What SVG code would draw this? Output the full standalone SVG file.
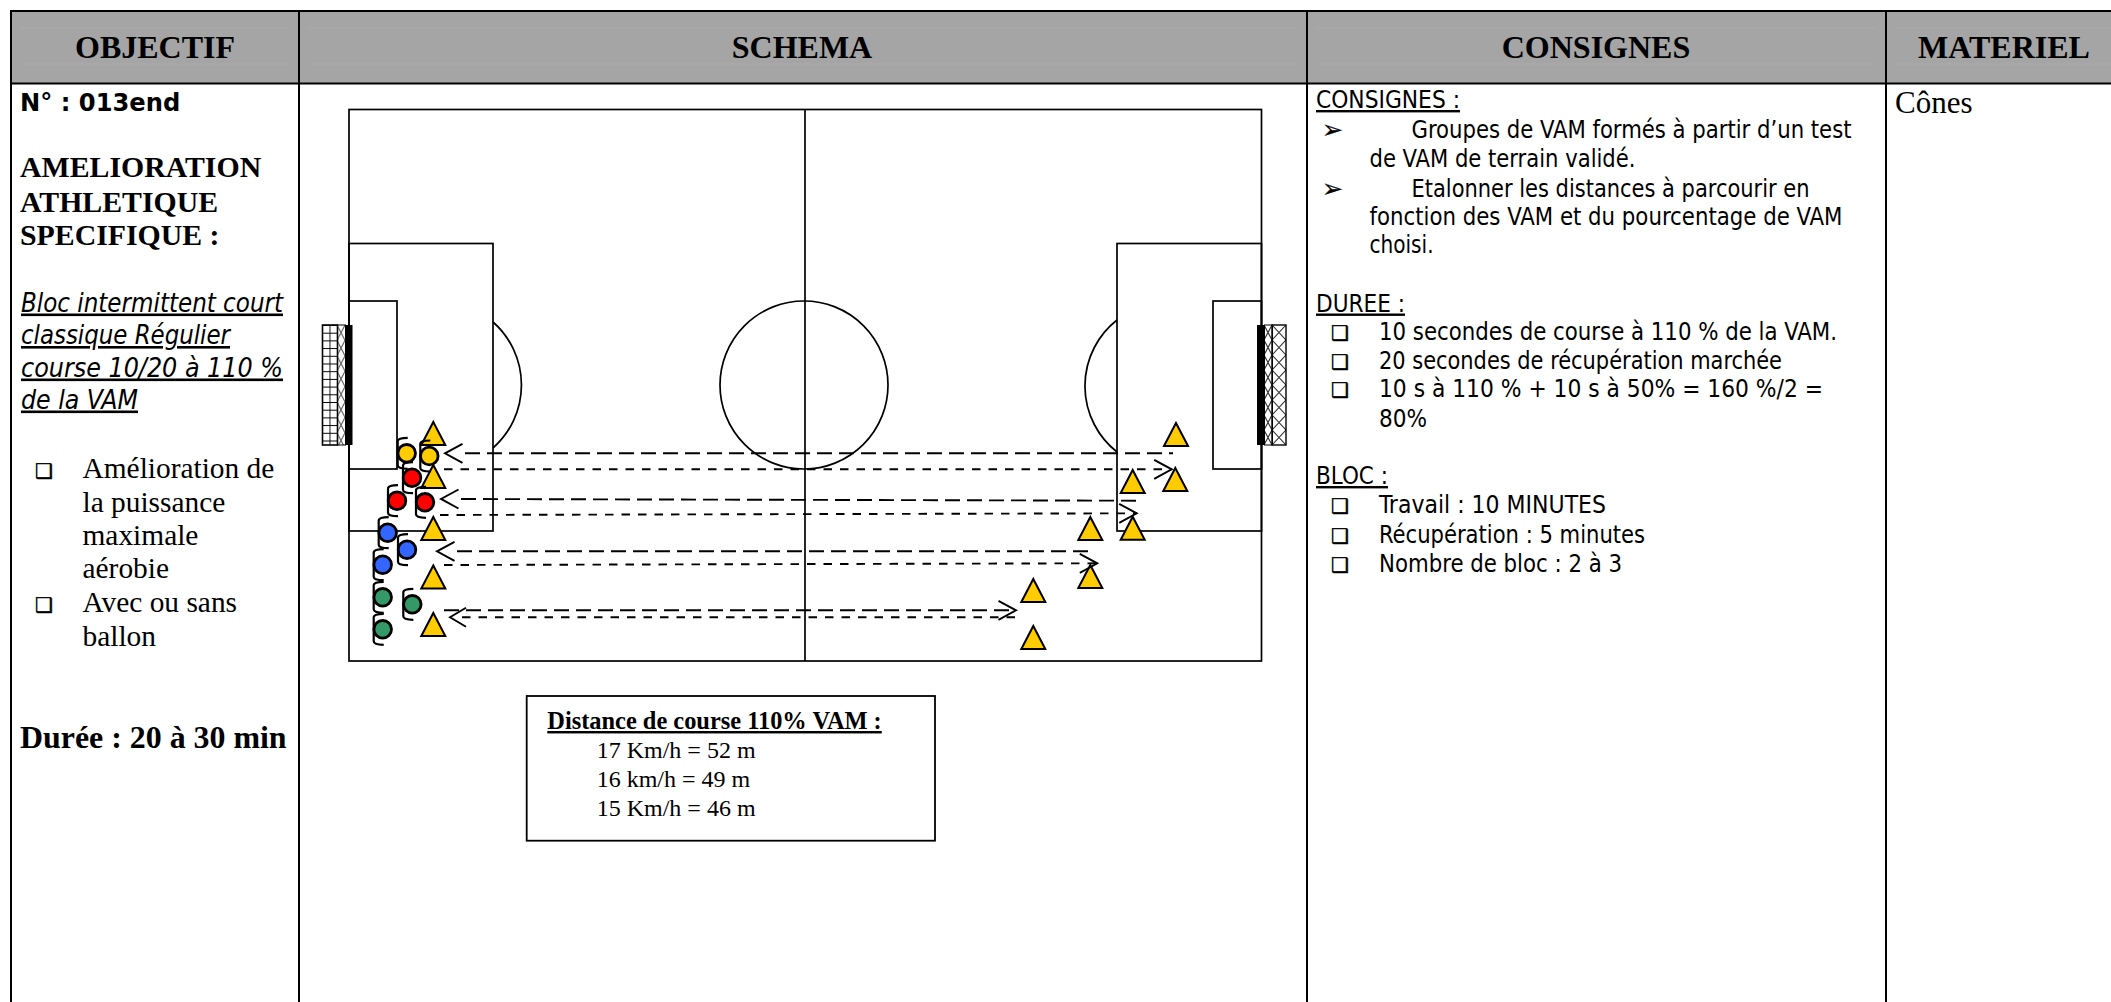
<svg xmlns="http://www.w3.org/2000/svg" width="2111" height="1002" viewBox="0 0 2111 1002">
<style>
text{fill:#000;white-space:pre}
.h{font:bold 32px "Liberation Serif",serif;text-anchor:middle}
.sb{font:bold 29.8px "Liberation Serif",serif}
.du{font:bold 31.9px "Liberation Serif",serif}
.s{font:29.4px "Liberation Serif",serif}
.v{font:bold 24.2px "DejaVu Sans",sans-serif}
.t{font-family:"DejaVu Sans",sans-serif;font-size:24px;font-stretch:condensed}
.i{font-family:"DejaVu Sans",sans-serif;font-size:26px;font-style:italic;font-stretch:condensed;text-decoration:underline}
.u{text-decoration:underline}
.box{font:24px "Liberation Serif",serif}
.boxh{font:bold 24.4px "Liberation Serif",serif;text-decoration:underline}
.bl{font-family:"DejaVu Sans",sans-serif;font-size:20px;stroke:#000;stroke-width:.5}
.ar{font-family:"DejaVu Sans",sans-serif;font-size:25px;stroke:#000;stroke-width:.3}
.grid{stroke:#000;fill:none;stroke-width:2}
.p{fill:none;stroke:#000;stroke-width:1.7}
.cone{fill:#FFCC00;stroke:#000;stroke-width:2;stroke-linejoin:miter}
.dl{fill:none;stroke:#000;stroke-width:1.9;stroke-dasharray:15 7}
.ds{fill:none;stroke:#000;stroke-width:1.9;stroke-dasharray:8.5 8}
.c{stroke:#000;stroke-width:2.8}
.br{fill:none;stroke:#000;stroke-width:2.2}
</style>
<defs>
<pattern id="netGrid" patternUnits="userSpaceOnUse" x="322" y="325" width="7.5" height="7.7"><path d="M0,0H7.5M0,0V7.7" stroke="#000" stroke-width="1.8" fill="none"/></pattern>
<pattern id="netX" patternUnits="userSpaceOnUse" x="337" y="325" width="8" height="15.4"><path d="M0,0L8,15.4M8,0L0,15.4" stroke="#555" stroke-width="1" fill="none"/></pattern>
<pattern id="netXS" patternUnits="userSpaceOnUse" x="1264" y="325" width="8" height="15"><path d="M0,0L8,15M8,0L0,15" stroke="#333" stroke-width="1.1" fill="none"/></pattern>
<pattern id="netXL" patternUnits="userSpaceOnUse" x="1272" y="325" width="14" height="15"><path d="M0,0L14,15M14,0L0,15" stroke="#333" stroke-width="1.1" fill="none"/></pattern>
<marker id="hs" markerUnits="userSpaceOnUse" markerWidth="60" markerHeight="30" viewBox="-25 -15 60 30" refX="0" refY="0" orient="auto" overflow="visible"><path d="M-2.5,-9.5L-20,0L-2.5,9.5" fill="none" stroke="#000" stroke-width="1.9"/></marker>
<marker id="hs2" markerUnits="userSpaceOnUse" markerWidth="60" markerHeight="30" viewBox="-25 -15 60 30" refX="0" refY="0" orient="auto" overflow="visible"><path d="M4,-9.5L-12,0L4,9.5" fill="none" stroke="#000" stroke-width="1.9"/></marker>
<marker id="he" markerUnits="userSpaceOnUse" markerWidth="40" markerHeight="30" viewBox="-25 -15 30 30" refX="0" refY="0" orient="auto" overflow="visible"><path d="M-17.5,-9.5L0,0L-17.5,9.5" fill="none" stroke="#000" stroke-width="1.9"/></marker>
<path id="bracket" class="br" d="M1,-15.5Q-9,-15.5 -9,-12V12Q-9,15.5 1,15.5"/>
<polygon id="coneShape" class="cone" points="0,0 12,23 -12,23"/>
</defs>
<rect width="2111" height="1002" fill="#fff"/>

<g id="table">
<rect x="11" y="11" width="2100" height="72" fill="#A5A5A5"/>
<path d="M20,28H289M309,28H1297M1317,28H1876M1896,28H2111M20,64H289M309,64H1297M1317,64H1876M1896,64H2111" stroke="#ABABAB" stroke-width="1" fill="none"/>
<path class="grid" d="M10,11H2111M10,83.5H2111M11,10V1002M299,10V1002M1307,10V1002M1886,10V1002"/>
</g>

<g id="headers">
<text class="h" x="155" y="58">OBJECTIF</text>
<text class="h" x="802" y="58">SCHEMA</text>
<text class="h" x="1596" y="58">CONSIGNES</text>
<text class="h" x="2004" y="58">MATERIEL</text>
</g>

<g id="objectif">
<text class="v" x="20" y="110.5">N° : 013end</text>
<text class="sb" x="20" y="177">AMELIORATION</text>
<text class="sb" x="20" y="211.5">ATHLETIQUE</text>
<text class="sb" x="20" y="245">SPECIFIQUE :</text>
<text class="i" x="21" y="311.5" textLength="262" lengthAdjust="spacingAndGlyphs">Bloc intermittent court</text>
<text class="i" x="21" y="344" textLength="209" lengthAdjust="spacingAndGlyphs">classique Régulier</text>
<text class="i" x="21" y="376.5" textLength="262" lengthAdjust="spacingAndGlyphs">course 10/20 à 110 %</text>
<text class="i" x="21" y="408.5" textLength="117" lengthAdjust="spacingAndGlyphs">de la VAM</text>
<text class="bl" x="35" y="478">❑</text>
<text class="s" x="82.5" y="478">Amélioration de</text>
<text class="s" x="82.5" y="511.5">la puissance</text>
<text class="s" x="82.5" y="545">maximale</text>
<text class="s" x="82.5" y="578">aérobie</text>
<text class="bl" x="35" y="612">❑</text>
<text class="s" x="82.5" y="612">Avec ou sans</text>
<text class="s" x="82.5" y="646">ballon</text>
<text class="du" x="20" y="748">Durée : 20 à 30 min</text>
</g>

<g id="pitch">
<rect class="p" x="349" y="109.5" width="912.5" height="551.5"/>
<path class="p" d="M805,109.5V661"/>
<circle class="p" cx="804" cy="385" r="84"/>
<rect class="p" x="349" y="243.5" width="144" height="287.5"/>
<rect class="p" x="349" y="301" width="48" height="168"/>
<rect class="p" x="1117" y="243.5" width="144.5" height="287.5"/>
<rect class="p" x="1213" y="301" width="48.5" height="168"/>
<path class="p" d="M493,322A84,84 0 0 1 493,448"/>
<path class="p" d="M1117,320A84,84 0 0 0 1117,452"/>
</g>

<g id="goal-left">
<rect x="322.5" y="325" width="15" height="120" fill="url(#netGrid)" stroke="#000" stroke-width="1.6"/>
<rect x="337.5" y="325" width="8" height="120" fill="url(#netX)" stroke="#000" stroke-width="1"/>
<rect x="345" y="325" width="7.5" height="120" fill="#000"/>
</g>
<g id="goal-right">
<rect x="1257" y="325" width="7.5" height="120" fill="#000"/>
<rect x="1264.5" y="325" width="8" height="120" fill="url(#netXS)" stroke="#000" stroke-width="1"/>
<rect x="1272" y="325" width="14" height="120" fill="url(#netXL)" stroke="#000" stroke-width="1.4"/>
</g>

<g id="cones">
<use id="cone-l1" href="#coneShape" x="433.3" y="422"/>
<use id="cone-l2" href="#coneShape" x="433.3" y="465"/>
<use id="cone-l3" href="#coneShape" x="433.3" y="517"/>
<use id="cone-l4" href="#coneShape" x="433.3" y="565.5"/>
<use id="cone-l5" href="#coneShape" x="433.3" y="613"/>
<use id="cone-r1" href="#coneShape" x="1176" y="423"/>
<use id="cone-r2" href="#coneShape" x="1175.3" y="468"/>
<use id="cone-r3" href="#coneShape" x="1132.7" y="470"/>
<use id="cone-r4" href="#coneShape" x="1132.7" y="516.7"/>
<use id="cone-r5" href="#coneShape" x="1090.3" y="517"/>
<use id="cone-r6" href="#coneShape" x="1090.3" y="565"/>
<use id="cone-r7" href="#coneShape" x="1033.3" y="579"/>
<use id="cone-r8" href="#coneShape" x="1033.3" y="626"/>
</g>

<g id="connectors">
<path class="dl" d="M465,453.3H1173" marker-start="url(#hs)"/>
<path class="ds" d="M444,469.3H1171.7" marker-end="url(#he)"/>
<path class="dl" d="M461,499L1137,500.7" marker-start="url(#hs)"/>
<path class="ds" d="M440,515L1136.7,513.3" marker-end="url(#he)"/>
<path class="dl" d="M457,551.3H1090" marker-start="url(#hs)"/>
<path class="ds" d="M444,565L1097.3,563.3" marker-end="url(#he)"/>
<path class="dl" d="M444,610.3H1016" marker-end="url(#he)"/>
<path class="ds" d="M462,617.3H1016.7" marker-start="url(#hs2)"/>
</g>

<g id="player-y1" transform="translate(406.7,453.3)"><use href="#bracket"/><circle class="c" r="8.8" fill="#FFCC00"/></g>
<g id="player-y2" transform="translate(429.3,456)"><use href="#bracket"/><circle class="c" r="8.8" fill="#FFCC00"/></g>
<g id="player-r1" transform="translate(412,477.7)"><use href="#bracket"/><circle class="c" r="8.8" fill="#FF0000"/></g>
<g id="player-r2" transform="translate(397,500.7)"><use href="#bracket"/><circle class="c" r="8.8" fill="#FF0000"/></g>
<g id="player-r3" transform="translate(425,502.3)"><use href="#bracket"/><circle class="c" r="8.8" fill="#FF0000"/></g>
<g id="player-b1" transform="translate(387.7,532.7)"><use href="#bracket"/><circle class="c" r="8.8" fill="#3366FF"/></g>
<g id="player-b2" transform="translate(407,549.7)"><use href="#bracket"/><circle class="c" r="8.8" fill="#3366FF"/></g>
<g id="player-b3" transform="translate(382.7,564.7)"><use href="#bracket"/><circle class="c" r="8.8" fill="#3366FF"/></g>
<g id="player-g1" transform="translate(382.7,597.3)"><use href="#bracket"/><circle class="c" r="8.8" fill="#339966"/></g>
<g id="player-g2" transform="translate(412.3,604.3)"><use href="#bracket"/><circle class="c" r="8.8" fill="#339966"/></g>
<g id="player-g3" transform="translate(382.7,629.3)"><use href="#bracket"/><circle class="c" r="8.8" fill="#339966"/></g>

<g id="distance-box">
<rect x="526.7" y="696" width="408.3" height="144.7" fill="#fff" stroke="#000" stroke-width="1.8"/>
<text class="boxh" x="547.3" y="729">Distance de course 110% VAM :</text>
<text class="box" x="596.7" y="757.5">17 Km/h = 52 m</text>
<text class="box" x="596.7" y="786.7">16 km/h = 49 m</text>
<text class="box" x="596.7" y="816">15 Km/h = 46 m</text>
</g>

<g id="consignes">
<text class="t u" x="1316" y="108" textLength="144" lengthAdjust="spacingAndGlyphs">CONSIGNES :</text>
<text class="ar" x="1322" y="138">➢</text>
<text class="t" x="1411.5" y="138" textLength="440" lengthAdjust="spacingAndGlyphs">Groupes de VAM formés à partir d’un test</text>
<text class="t" x="1369.5" y="167" textLength="266" lengthAdjust="spacingAndGlyphs">de VAM de terrain validé.</text>
<text class="ar" x="1322" y="197">➢</text>
<text class="t" x="1411.5" y="197" textLength="398" lengthAdjust="spacingAndGlyphs">Etalonner les distances à parcourir en</text>
<text class="t" x="1369.5" y="224.5" textLength="473" lengthAdjust="spacingAndGlyphs">fonction des VAM et du pourcentage de VAM</text>
<text class="t" x="1369.5" y="253" textLength="64" lengthAdjust="spacingAndGlyphs">choisi.</text>
<text class="t u" x="1316" y="311.5" textLength="89" lengthAdjust="spacingAndGlyphs">DUREE :</text>
<text class="bl" x="1331" y="340">❑</text>
<text class="t" x="1379" y="340" textLength="458" lengthAdjust="spacingAndGlyphs">10 secondes de course à 110 % de la VAM.</text>
<text class="bl" x="1331" y="368.5">❑</text>
<text class="t" x="1379" y="368.5" textLength="403" lengthAdjust="spacingAndGlyphs">20 secondes de récupération marchée</text>
<text class="bl" x="1331" y="397">❑</text>
<text class="t" x="1379" y="397" textLength="444" lengthAdjust="spacingAndGlyphs">10 s à 110 % + 10 s à 50% = 160 %/2 =</text>
<text class="t" x="1379" y="426.5" textLength="48" lengthAdjust="spacingAndGlyphs">80%</text>
<text class="t u" x="1316" y="484" textLength="72" lengthAdjust="spacingAndGlyphs">BLOC :</text>
<text class="bl" x="1331" y="513">❑</text>
<text class="t" x="1379" y="513" textLength="227" lengthAdjust="spacingAndGlyphs">Travail : 10 MINUTES</text>
<text class="bl" x="1331" y="542.5">❑</text>
<text class="t" x="1379" y="542.5" textLength="266" lengthAdjust="spacingAndGlyphs">Récupération : 5 minutes</text>
<text class="bl" x="1331" y="571.5">❑</text>
<text class="t" x="1379" y="571.5" textLength="243" lengthAdjust="spacingAndGlyphs">Nombre de bloc : 2 à 3</text>
</g>

<g id="materiel">
<text class="s" style="font-size:31px" x="1895" y="113">Cônes</text>
</g>
</svg>
